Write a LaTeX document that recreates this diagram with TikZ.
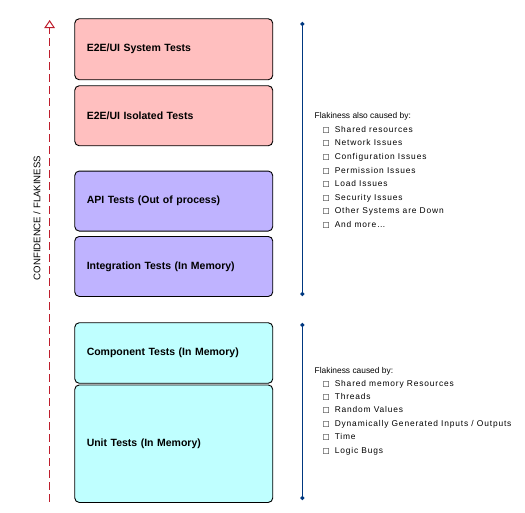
\documentclass[tikz,border=0pt]{standalone}
\usepackage{fontspec}
\setmainfont{Liberation Sans}
\newfontfamily\symfont{DejaVu Sans}
\newfontfamily\itemfont[LetterSpace=10]{Liberation Sans}
\usetikzlibrary{arrows.meta}
\definecolor{pinkfill}{RGB}{255,191,191}
\definecolor{purplefill}{RGB}{191,179,255}
\definecolor{cyanfill}{RGB}{191,255,255}
\definecolor{redline}{RGB}{190,30,45}
\definecolor{blueline}{RGB}{0,56,128}
\tikzset{
  tbox/.style={draw=black, line width=0.9pt, rounded corners=4.5pt, anchor=north west,
    minimum width=198pt, text width=174pt, inner xsep=12pt, inner ysep=0pt, align=left,
    font=\fontsize{10.5}{12}\selectfont\bfseries},
  note/.style={anchor=base west, inner sep=0pt, font=\fontsize{8.4}{10}\selectfont},
  itemnote/.style={anchor=base west, inner sep=0pt, font=\itemfont\fontsize{8.4}{10}\selectfont},
  bracket/.style={draw=blueline, line width=1.3pt, {Circle[length=4pt]}-{Circle[length=4pt]}},
  axis/.style={draw=redline, line width=1.1pt, dash pattern=on 8pt off 4pt,
    -{Triangle[open, length=8pt, width=10.5pt, line width=1pt]}}
}
\newcommand{\bul}{{\symfont\fontsize{7.5}{9}\selectfont □}\hspace{5pt}}
\begin{document}
\begin{tikzpicture}[x=1pt, y=-1pt]
\useasboundingbox (0,0) rectangle (525,512);
% boxes
\node[tbox, fill=pinkfill, minimum height=61pt] (b1) at (74.3,18.3) {E2E/UI System Tests};
\node[tbox, fill=pinkfill, minimum height=60pt] (b2) at (74.3,85.3) {E2E/UI Isolated Tests};
\node[tbox, fill=purplefill, minimum height=60pt] (b3) at (74.3,170.6) {API Tests (Out of process)};
\node[tbox, fill=purplefill, minimum height=60pt] (b4) at (74.3,236) {Integration Tests (In Memory)};
\node[tbox, fill=cyanfill, minimum height=60.5pt] (b5) at (74.3,322.3) {Component Tests (In Memory)};
\node[tbox, fill=cyanfill, minimum height=117.5pt] (b6) at (74.3,384.5) {Unit Tests (In Memory)};
% confidence axis
\coordinate (ax0) at (49.6,501.7);
\coordinate (ax1) at (49.6,20);
\draw[axis] (ax0) -- (ax1);
\node[rotate=90, inner sep=0pt, font=\fontsize{9.6}{11}\selectfont] (axl) at (37,218) {CONFIDENCE / FLAKINESS};
% brackets
\coordinate (u0) at (302.3,22);
\coordinate (u1) at (302.3,296);
\coordinate (l0) at (302.3,323);
\coordinate (l1) at (302.3,500);
\draw[bracket] (u0) -- (u1);
\draw[bracket] (l0) -- (l1);
% upper list
\node[note] (h1) at (314.5,118.5) {Flakiness also caused by:};
\foreach \t [count=\i] in {Shared resources, Network Issues, Configuration Issues, Permission Issues, Load Issues, Security Issues, Other Systems are Down, And more\dots}
  \node[itemnote] (ua\i) at (322.5,{132.3+13.6*(\i-1)}) {\bul\t};
% lower list
\node[note] (h2) at (314.5,373.5) {Flakiness caused by:};
\foreach \t [count=\i] in {Shared memory Resources, Threads, Random Values, Dynamically Generated Inputs / Outputs, Time, Logic Bugs}
  \node[itemnote] (la\i) at (322.5,{386+13.4*(\i-1)}) {\bul\t};
\end{tikzpicture}
\end{document}
